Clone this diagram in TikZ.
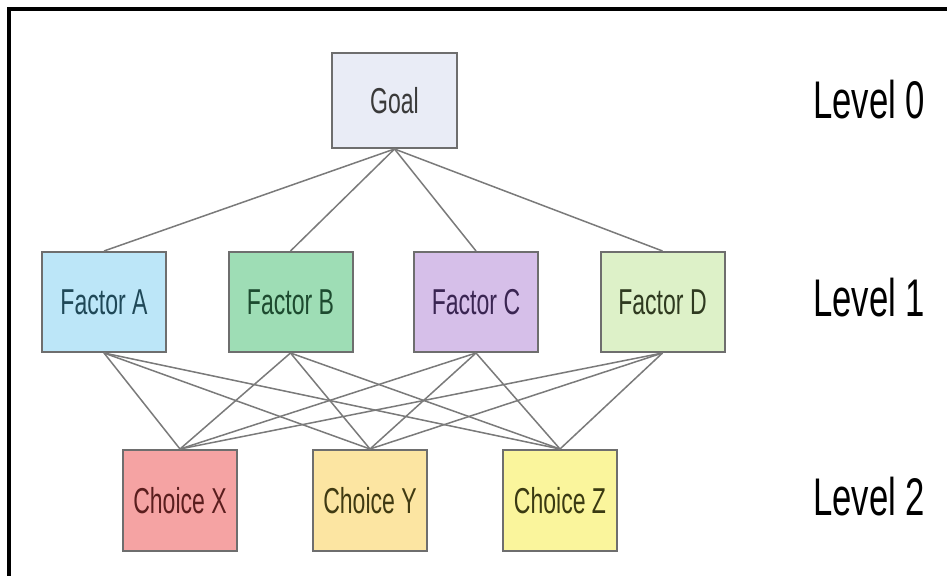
\documentclass[tikz,border=0pt]{standalone}
\usepackage{graphicx}
\usepackage{fontspec}
\setmainfont{Liberation Sans}
\newcommand\squeezetxt[2]{\scalebox{#1}[1]{#2}}
\definecolor{goalfill}{HTML}{E9ECF6}
\definecolor{afill}{HTML}{BCE6F8}
\definecolor{bfill}{HTML}{9EDDB5}
\definecolor{cfill}{HTML}{D6BFE9}
\definecolor{dfill}{HTML}{DDF1C8}
\definecolor{xfill}{HTML}{F5A3A3}
\definecolor{yfill}{HTML}{FCE5A2}
\definecolor{zfill}{HTML}{FAF59C}
\definecolor{boxline}{HTML}{6E6E6E}
\definecolor{conline}{HTML}{7A7A7A}
\definecolor{goaltxt}{HTML}{3A3A3A}
\definecolor{atxt}{HTML}{1F4858}
\definecolor{btxt}{HTML}{1D4A2F}
\definecolor{ctxt}{HTML}{3A2552}
\definecolor{dtxt}{HTML}{2F3A20}
\definecolor{xtxt}{HTML}{5A1E1E}
\definecolor{ytxt}{HTML}{403A12}
\definecolor{ztxt}{HTML}{3A3A12}
\tikzset{
  hbox/.style={draw=boxline, line width=1pt, inner sep=0pt,
    font=\fontsize{18}{20}\selectfont},
  factorbox/.style={hbox, minimum width=62pt, minimum height=50pt},
  choicebox/.style={hbox, minimum width=57pt, minimum height=50.5pt},
  goalbox/.style={hbox, minimum width=62.5pt, minimum height=47.5pt},
  levellabel/.style={inner sep=0pt, text=black, font=\fontsize{26.5}{30}\selectfont},
  conn/.style={draw=conline, line width=0.75pt}
}
\begin{document}
\begin{tikzpicture}[x=0.5pt, y=-0.5pt]
\useasboundingbox (0,0) rectangle (947,576);
\fill[white] (0,0) rectangle (947,576);
% outer frame (top and left edges)
\draw[black, line width=2pt] (9,580) -- (9,9) -- (951,9);

% nodes
\node[goalbox, fill=goalfill, text=goaltxt] (goal) at (394.5,100.5) {\squeezetxt{0.64}{Goal}};

\node[factorbox, fill=afill, text=atxt] (fa) at (104,302) {\squeezetxt{0.64}{Factor A}};
\node[factorbox, fill=bfill, text=btxt] (fb) at (290.5,302) {\squeezetxt{0.64}{Factor B}};
\node[factorbox, fill=cfill, text=ctxt] (fc) at (476,302) {\squeezetxt{0.64}{Factor C}};
\node[factorbox, fill=dfill, text=dtxt] (fd) at (662.5,302) {\squeezetxt{0.64}{Factor D}};

\node[choicebox, fill=xfill, text=xtxt] (cx) at (180,500.5) {\squeezetxt{0.64}{Choice X}};
\node[choicebox, fill=yfill, text=ytxt] (cy) at (370,500.5) {\squeezetxt{0.64}{Choice Y}};
\node[choicebox, fill=zfill, text=ztxt] (cz) at (560,500.5) {\squeezetxt{0.64}{Choice Z}};

\node[levellabel] (l0) at (869,100) {\squeezetxt{0.655}{Level 0}};
\node[levellabel] (l1) at (869,298) {\squeezetxt{0.655}{Level 1}};
\node[levellabel] (l2) at (869,497) {\squeezetxt{0.655}{Level 2}};

% connectors goal -> factors
\foreach \f in {fa,fb,fc,fd}{
  \draw[conn] (goal.south) -- (\f.north);
}
% connectors factors -> choices
\foreach \f in {fa,fb,fc,fd}{
  \foreach \c in {cx,cy,cz}{
    \draw[conn] (\f.south) -- (\c.north);
  }
}
\end{tikzpicture}
\end{document}
